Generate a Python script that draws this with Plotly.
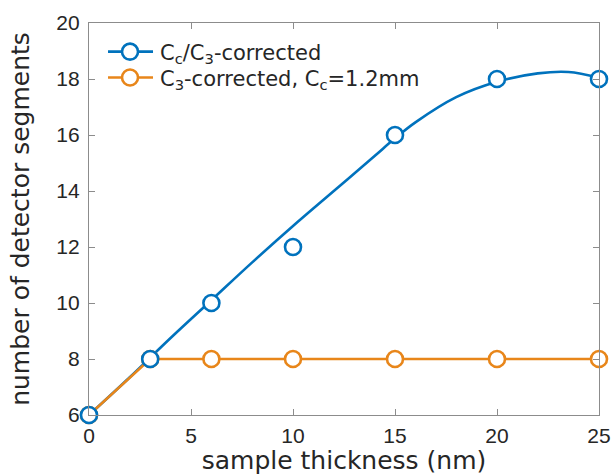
import plotly.graph_objects as go

# Data
thickness = [0, 3, 6, 10, 15, 20, 25]
segments_cc_c3 = [6, 8, 10, 12, 16, 18, 18]
segments_c3 = [6, 8, 8, 8, 8, 8, 8]

# smooth fit curve of the Cc/C3-corrected series
fit_x = [0, 2, 4, 6, 8, 10, 12, 14, 15, 16, 18, 20, 22, 23.5, 25]
fit_y = [6.0, 7.35, 8.75, 10.1, 11.45, 12.75, 14.0, 15.25, 15.88, 16.45, 17.35, 17.9, 18.2, 18.25, 18.05]

x_ticks = [0, 5, 10, 15, 20, 25]
y_ticks = [6, 8, 10, 12, 14, 16, 18, 20]

BLUE = "#0072BD"
ORANGE = "#E8861A"
TXT = "#262626"
AX = "#8C8C8C"
LW = 2.6
MS = 16

fig = go.Figure()

fig.add_trace(go.Scatter(x=fit_x, y=fit_y, mode="lines", line=dict(color=BLUE, width=LW, shape="spline"),
                         showlegend=False, hoverinfo="skip", cliponaxis=False))
fig.add_trace(go.Scatter(x=thickness, y=segments_c3, mode="lines+markers",
                         line=dict(color=ORANGE, width=LW),
                         marker=dict(symbol="circle", size=MS, color="white", line=dict(color=ORANGE, width=LW)),
                         cliponaxis=False, showlegend=False))
fig.add_trace(go.Scatter(x=thickness, y=segments_cc_c3, mode="markers",
                         marker=dict(symbol="circle", size=MS, color="white", line=dict(color=BLUE, width=LW)),
                         showlegend=False, cliponaxis=False))
# legend entries
fig.add_trace(go.Scatter(x=[None], y=[None], mode="lines+markers", name="C<sub>c</sub>/C<sub>3</sub>-corrected",
                         line=dict(color=BLUE, width=LW), legend="legend",
                         marker=dict(symbol="circle", size=MS, color="white", line=dict(color=BLUE, width=LW))))
fig.add_trace(go.Scatter(x=[None], y=[None], mode="lines+markers", name="C<sub>3</sub>-corrected, C<sub>c</sub>=1.2mm",
                         line=dict(color=ORANGE, width=LW), legend="legend2",
                         marker=dict(symbol="circle", size=MS, color="white", line=dict(color=ORANGE, width=LW))))

axis_common = dict(showline=True, linecolor=AX, linewidth=1.2, mirror="ticks", ticks="inside", ticklen=6,
                   tickcolor=AX, tickwidth=1.2, showgrid=False, zeroline=False,
                   tickfont=dict(family="Liberation Sans, Arial", size=21, color=TXT))

fig.update_xaxes(range=[0, 25], tickvals=x_ticks, ticklabelstandoff=2,
                 title=dict(text="sample thickness (nm)", font=dict(family="DejaVu Sans", size=25, color=TXT), standoff=5),
                 **axis_common)
fig.update_yaxes(range=[6, 20], tickvals=y_ticks, ticklabelstandoff=4,
                 title=dict(text="number of detector segments", font=dict(family="DejaVu Sans", size=25, color=TXT), standoff=19),
                 **axis_common)

leg_common = dict(xanchor="left", yanchor="middle", bgcolor="rgba(0,0,0,0)",
                  font=dict(family="DejaVu Sans", size=21, color=TXT), itemwidth=50)
fig.update_layout(
    width=616, height=475,
    margin=dict(l=89, r=17, t=23, b=60, autoexpand=False),
    paper_bgcolor="white", plot_bgcolor="white",
    legend=dict(x=0.0216, y=0.926, **leg_common),
    legend2=dict(x=0.0216, y=0.860, **leg_common),
)

post = """
document.body.style.margin='0';
var gd=document.getElementById('{plot_id}');
gd.querySelectorAll('.legendlines path').forEach(function(p){p.setAttribute('d','M8,0h45');});
"""
fig.write_html("out.html", post_script=post, config={"displayModeBar": False})
